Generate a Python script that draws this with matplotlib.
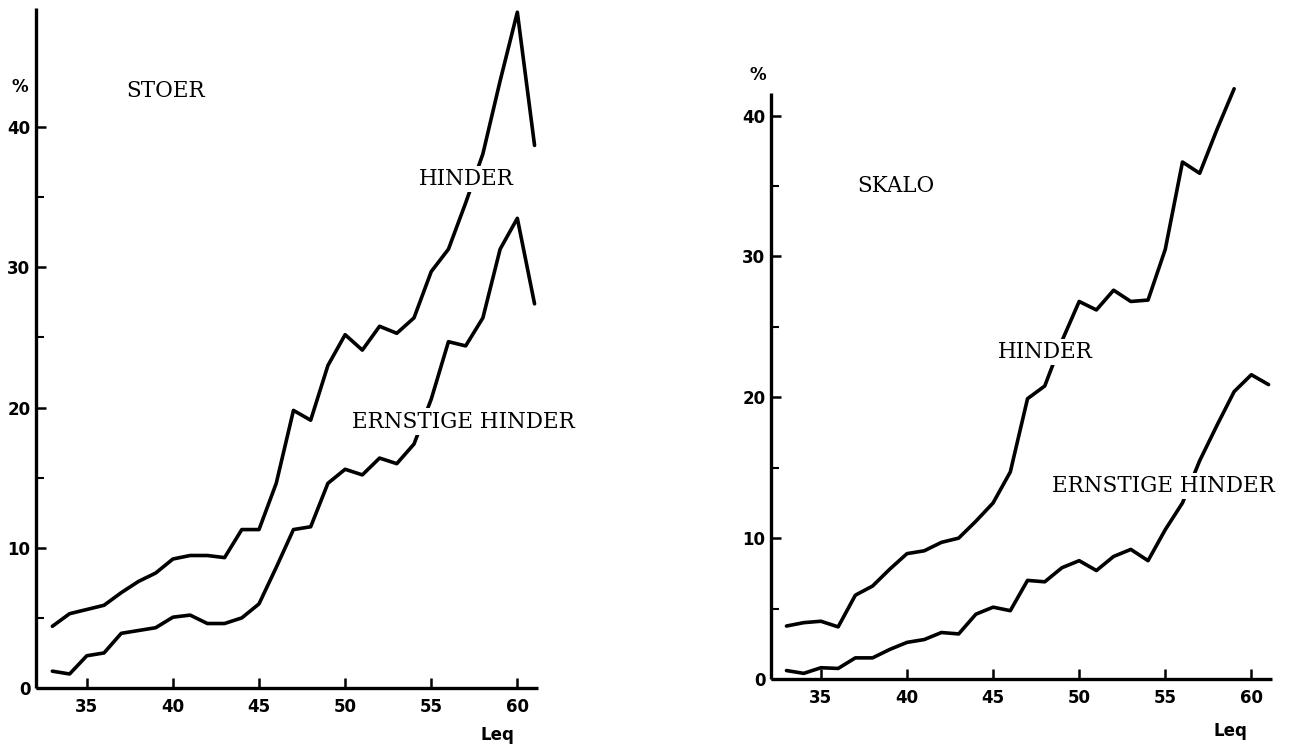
import matplotlib
matplotlib.use("Agg")
import matplotlib.pyplot as plt
from matplotlib.ticker import FixedLocator

# ---- data ----
leq = list(range(33, 62))

stoer_hinder = [4.4, 5.3, 5.6, 5.9, 6.8, 7.6, 8.2, 9.2, 9.45, 9.45, 9.3, 11.3, 11.3,
                14.6, 19.8, 19.1, 23.0, 25.2, 24.1, 25.8, 25.3, 26.4, 29.7, 31.3,
                34.6, 38.1, 43.3, 48.2, 38.7]
stoer_ernst = [1.2, 1.0, 2.3, 2.5, 3.9, 4.1, 4.3, 5.05, 5.2, 4.6, 4.6, 5.0, 6.0,
               8.6, 11.3, 11.5, 14.6, 15.6, 15.2, 16.4, 16.0, 17.4, 20.6, 24.7,
               24.4, 26.4, 31.3, 33.5, 27.4]

skalo_leq_h = list(range(33, 60))
skalo_hinder = [3.76, 4.0, 4.1, 3.7, 5.95, 6.6, 7.8, 8.9, 9.1, 9.7, 10.0, 11.2, 12.5,
                14.7, 19.9, 20.8, 24.0, 26.8, 26.2, 27.6, 26.8, 26.9, 30.5, 36.7,
                35.9, 39.0, 41.9]
skalo_ernst = [0.6, 0.4, 0.8, 0.75, 1.5, 1.5, 2.1, 2.6, 2.8, 3.3, 3.2, 4.6, 5.1,
               4.85, 7.0, 6.9, 7.9, 8.4, 7.7, 8.7, 9.2, 8.4, 10.6, 12.5, 15.5,
               18.0, 20.4, 21.6, 20.9]

x_ticks = [35, 40, 45, 50, 55, 60]
y_ticks = [0, 10, 20, 30, 40]
y_minor = [5, 15, 25, 35]

W, H = 1307, 751
fig = plt.figure(figsize=(W / 100, H / 100), dpi=100)

label_font = dict(family="DejaVu Serif", fontsize=15.5, color="black")
tick_font = dict(family="DejaVu Sans", fontsize=12, fontweight="bold")


def make_axes(rect, ylim, xlim):
    ax = fig.add_axes(rect)
    ax.set_xlim(*xlim)
    ax.set_ylim(*ylim)
    for s in ("top", "right"):
        ax.spines[s].set_visible(False)
    for s in ("left", "bottom"):
        ax.spines[s].set_linewidth(2.4)
        ax.spines[s].set_capstyle("butt")
    ax.set_xticks(x_ticks)
    ax.set_yticks(y_ticks)
    ax.yaxis.set_minor_locator(FixedLocator(y_minor))
    ax.tick_params(axis="both", which="major", direction="in", length=7, width=1.8, pad=7)
    ax.tick_params(axis="y", which="minor", direction="in", length=6, width=1.5)
    ax.tick_params(axis="x", which="minor", length=0)
    for lab in ax.get_xticklabels() + ax.get_yticklabels():
        lab.set_fontfamily(tick_font["family"])
        lab.set_fontsize(tick_font["fontsize"])
        lab.set_fontweight(tick_font["fontweight"])
    ax.tick_params(axis="y", pad=4)
    ax.patch.set_alpha(0)
    return ax


def txt(ax, x, y, s):
    ax.text(x, y, s, ha="left", va="center", zorder=5,
            bbox=dict(facecolor="white", edgecolor="none", pad=1.5), **label_font)


line_kw = dict(color="black", linewidth=2.6, solid_joinstyle="round",
               solid_capstyle="round", zorder=3, clip_on=False)

# ---- left panel: STOER ----
ax1 = make_axes([36 / W, 63 / H, 502 / W, 680 / H], (0, 48.5), (32.05, 61.2))
ax1.plot(leq, stoer_hinder, **line_kw)
ax1.plot(leq, stoer_ernst, **line_kw)
txt(ax1, 37.3, 42.6, "STOER")
txt(ax1, 54.3, 36.3, "HINDER")
txt(ax1, 50.4, 19.0, "ERNSTIGE HINDER")
fig.text(20 / W, 1 - 87 / H, "%", ha="center", va="center",
         fontsize=12, fontweight="bold", family="DejaVu Sans")
fig.text(497 / W, 1 - 735 / H, "Leq", ha="center", va="center",
         fontsize=12, fontweight="bold", family="DejaVu Sans")

# ---- right panel: SKALO ----
ax2 = make_axes([771 / W, 72 / H, 501 / W, 586 / H], (0, 41.6), (32.1, 61.2))
ax2.plot(skalo_leq_h, skalo_hinder, **line_kw)
ax2.plot(leq, skalo_ernst, **line_kw)
txt(ax2, 37.1, 35.0, "SKALO")
txt(ax2, 45.3, 23.2, "HINDER")
txt(ax2, 48.4, 13.7, "ERNSTIGE HINDER")
fig.text(758 / W, 1 - 75 / H, "%", ha="center", va="center",
         fontsize=12, fontweight="bold", family="DejaVu Sans")
fig.text(1230 / W, 1 - 731 / H, "Leq", ha="center", va="center",
         fontsize=12, fontweight="bold", family="DejaVu Sans")

fig.savefig("out.png", dpi=100, facecolor="white")
